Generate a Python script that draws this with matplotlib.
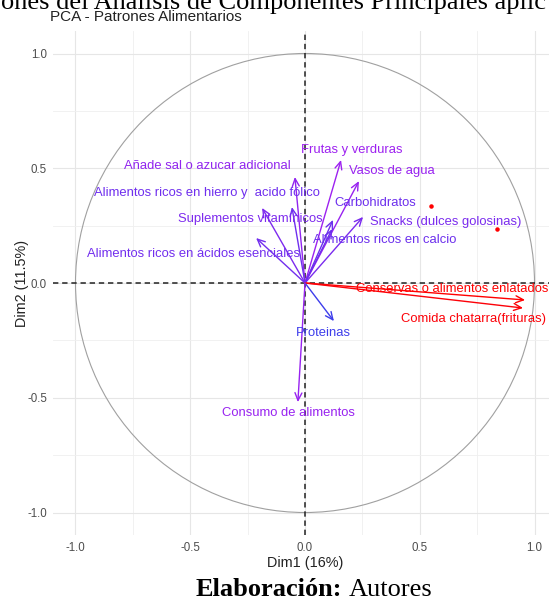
import matplotlib.pyplot as plt
import numpy as np
from matplotlib.colors import LinearSegmentedColormap, Normalize
from matplotlib.patches import Circle

# ================== datos ==================
variables = [
    "Frutas y verduras", "Vasos de agua", "Carbohidratos",
    "Snacks (dulces golosinas)", "Alimentos ricos en calcio",
    "Añade sal o azucar adicional", "Alimentos ricos en hierro y  acido fólico",
    "Suplementos vitamínicos", "Alimentos ricos en ácidos esenciales",
    "Conservas o alimentos enlatados", "Comida chatarra(frituras)",
    "Proteinas", "Consumo de alimentos",
]
dim1 = [0.157, 0.235, 0.122, 0.253, 0.118, -0.044, -0.057, -0.187, -0.213,
        0.959, 0.950, 0.126, -0.031]
dim2 = [0.536, 0.444, 0.275, 0.288, 0.235, 0.462, 0.331, 0.327, 0.196,
        -0.074, -0.109, -0.166, -0.519]
contrib = [12.4, 11.8, 7.0, 8.5, 6.8, 11.0, 7.2, 8.8, 7.5, 24.0, 23.6, 1.5, 11.8]

# puntos rojos
pts_x = [0.549, 0.837]
pts_y = [0.336, 0.235]

ticks = [-1.0, -0.5, 0.0, 0.5, 1.0]
tick_labels = ["-1.0", "-0.5", "0.0", "0.5", "1.0"]

# ================== posiciones de etiquetas (en unidades de datos) ==================
label_xy = [
    (0.205, 0.580), (0.379, 0.488), (0.305, 0.349), (0.614, 0.266),
    (0.349, 0.187), (-0.427, 0.510), (-0.427, 0.392), (-0.240, 0.279),
    (-0.488, 0.126), (0.640, -0.026), (0.736, -0.157), (0.078, -0.218),
    (-0.070, -0.566),
]

SANS = 'Liberation Sans'
SERIF = 'Liberation Serif'
W, H = 549, 601

cmap = LinearSegmentedColormap.from_list('contrib', ["#3D3DEB", "#A020F0", "#FF0000"])
norm = Normalize(vmin=min(contrib), vmax=max(contrib))

fig = plt.figure(figsize=(W / 100, H / 100), dpi=100)
fig.patch.set_facecolor('white')

# panel: centro (305, 283) px, 229.5 px por unidad
x0, y0, u = 305, 283, 229.5
lim = 1.1
left = (x0 - lim * u) / W
bottom = (H - (y0 + lim * u)) / H
ax = fig.add_axes([left, bottom, 2 * lim * u / W, 2 * lim * u / H])
ax.set_xlim(-lim, lim)
ax.set_ylim(-lim, lim)

for s in ax.spines.values():
    s.set_visible(False)

# rejilla estilo theme_minimal
ax.set_xticks(ticks)
ax.set_yticks(ticks)
ax.set_xticks([-0.75, -0.25, 0.25, 0.75], minor=True)
ax.set_yticks([-0.75, -0.25, 0.25, 0.75], minor=True)
ax.set_xticklabels(tick_labels)
ax.set_yticklabels(tick_labels)
ax.grid(True, which='major', color='#E6E6E6', lw=0.8)
ax.grid(True, which='minor', color='#EFEFEF', lw=0.6)
ax.set_axisbelow(True)
ax.tick_params(which='both', length=0)
ax.tick_params(axis='x', pad=5, labelsize=8.3, labelcolor='#4D4D4D')
ax.tick_params(axis='y', pad=4, labelsize=8.3, labelcolor='#4D4D4D')
for lab in ax.get_xticklabels() + ax.get_yticklabels():
    lab.set_fontfamily(SANS)

# circulo de correlacion
ax.add_patch(Circle((0, 0), 1, fill=False, color='#A0A0A0', lw=0.8, zorder=1))

# ejes punteados
ax.axhline(0, color='#222222', ls=(0, (3.5, 2.5)), lw=1.1, zorder=2)
ax.axvline(0, color='#222222', ls=(0, (3.5, 2.5)), lw=1.1, zorder=2)

# flechas y etiquetas
for i, name in enumerate(variables):
    c = cmap(norm(contrib[i]))
    ax.annotate('', xy=(dim1[i], dim2[i]), xytext=(0, 0),
                arrowprops=dict(arrowstyle='->,head_length=0.55,head_width=0.25',
                                color=c, lw=1.0, shrinkA=0, shrinkB=0,
                                mutation_scale=10),
                zorder=3)
    lx, ly = label_xy[i]
    ax.text(lx, ly, name, color=c, fontsize=9.4, family=SANS,
            ha='center', va='center', zorder=4, clip_on=False)

ax.scatter(pts_x, pts_y, s=5, color='red', zorder=4)

# titulos de ejes
fig.text(x0 / W, 1 - 563 / H, "Dim1 (16%)", ha='center', va='center',
         fontsize=10.4, family=SANS, color='#222222')
fig.text(22 / W, 1 - y0 / H, "Dim2 (11.5%)", ha='center', va='center',
         rotation=90, fontsize=10.4, family=SANS, color='#222222')

# titulo del grafico
fig.text(50 / W, 1 - 17 / H, "PCA - Patrones Alimentarios", ha='left', va='center',
         fontsize=11, family=SANS, color='#222222')

# texto del documento (cortado arriba)
fig.text(1 / W, 1 - 8.5 / H, "ones del Análisis de Componentes Principales aplic",
         ha='left', va='baseline', fontsize=19, family=SERIF, color='black')

# pie
fig.text(342 / W, 1 - 596 / H, "Elaboración:", ha='right', va='baseline',
         fontsize=19, family=SERIF, fontweight='bold', color='black')
fig.text(349 / W, 1 - 596 / H, "Autores", ha='left', va='baseline',
         fontsize=19, family=SERIF, color='black')

plt.savefig('out.png', dpi=100, facecolor='white')
plt.close()
